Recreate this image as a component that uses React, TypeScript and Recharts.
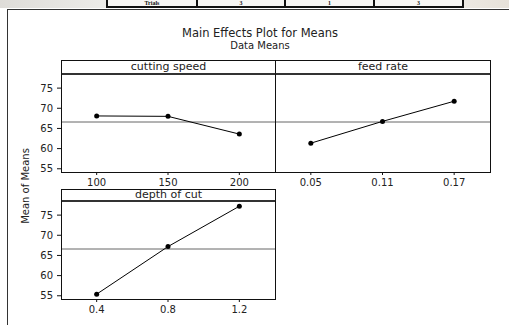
import React from 'react';
import { LineChart, Line, XAxis, YAxis, ReferenceLine } from 'recharts';

// factor levels and the mean response at each level
const speedLevels = [100, 150, 200];
const speedMeans = [68.1, 68.0, 63.6];
const feedLevels = [0.05, 0.11, 0.17];
const feedMeans = [61.35, 66.75, 71.75];
const depthLevels = [0.4, 0.8, 1.2];
const depthMeans = [55.4, 67.2, 77.2];
const meanTicks = [55, 60, 65, 70, 75];

const allMeans = [...speedMeans, ...feedMeans, ...depthMeans];
const grandMean = allMeans.reduce((a, b) => a + b, 0) / allMeans.length;

// bits of the table row cut off above the figure
const tableCells = ['Trials', '3', '1', '3'];

const FONT = '"DejaVu Sans", Verdana, sans-serif';
const Y_DOMAIN: [number, number] = [54.2, 78.5];
const PLOT_H = 98;
const X_H = 22;
const Y_W = 30;

interface PanelProps {
  title: string;
  levels: number[];
  means: number[];
  xDomain: [number, number];
  left: number;
  top: number;
  plotW: number;
  headerH: number;
  showY: boolean;
}

function Panel({ title, levels, means, xDomain, left, top, plotW, headerH, showY }: PanelProps) {
  const data = levels.map((x, i) => ({ x, y: means[i] }));
  const yW = showY ? Y_W : 0;
  const tick = { fontSize: 10, fill: '#222', fontFamily: FONT };
  return (
    <div style={{ position: 'absolute', left: left - yW, top: top - headerH }}>
      <div
        style={{
          position: 'absolute',
          left: yW,
          top: 0,
          width: plotW + 1,
          height: headerH + 1,
          boxSizing: 'border-box',
          border: '1px solid #111',
          borderBottom: '2px solid #333',
          fontSize: 11,
          fontFamily: FONT,
          color: '#222',
          textAlign: 'center',
          lineHeight: `${headerH - 2}px`,
        }}
      >
        {title}
      </div>
      <div style={{ position: 'absolute', left: 0, top: headerH }}>
        <LineChart
          width={yW + plotW + 1}
          height={PLOT_H + X_H}
          data={data}
          margin={{ top: 0, right: 1, bottom: 0, left: 0 }}
        >
          <XAxis
            dataKey='x'
            type='number'
            domain={xDomain}
            ticks={levels}
            height={X_H}
            axisLine={false}
            tickSize={3}
            tickMargin={4}
            tickLine={{ stroke: '#111' }}
            tick={tick}
            allowDataOverflow
          />
          <YAxis
            type='number'
            domain={Y_DOMAIN}
            ticks={meanTicks}
            width={Y_W}
            hide={!showY}
            axisLine={false}
            tickSize={4}
            tickMargin={4}
            tickLine={{ stroke: '#111' }}
            tick={tick}
            allowDataOverflow
          />
          <ReferenceLine y={grandMean} stroke='#666' strokeWidth={1} />
          <Line
            dataKey='y'
            stroke='#000'
            strokeWidth={1}
            dot={{ r: 2.5, fill: '#000', stroke: '#000', strokeWidth: 0 }}
            isAnimationActive={false}
          />
        </LineChart>
      </div>
      <div
        style={{
          position: 'absolute',
          left: yW,
          top: headerH,
          width: plotW + 1,
          height: PLOT_H + 1,
          boxSizing: 'border-box',
          border: '1px solid #111',
          borderTop: 'none',
          pointerEvents: 'none',
        }}
      />
    </div>
  );
}

export default function App() {
  const cellEdges = [106, 196, 284, 373, 462];
  return (
    <div
      style={{
        position: 'absolute',
        left: 0,
        top: 0,
        width: 509,
        height: 325,
        overflow: 'hidden',
        background: '#fff',
        fontFamily: FONT,
      }}
    >
      {/* table strip at the very top */}
      <div
        style={{
          position: 'absolute',
          left: 0,
          top: 0,
          width: 509,
          height: 8,
          overflow: 'hidden',
          background: 'linear-gradient(90deg, #dedcd8, #ecebe8 20%, #f3f1ee 80%, #e6e1d9)',
        }}
      >
        {tableCells.map((t, i) => (
          <div
            key={i}
            style={{
              position: 'absolute',
              left: cellEdges[i],
              top: -20,
              width: cellEdges[i + 1] - cellEdges[i] + 2,
              height: 28,
              boxSizing: 'border-box',
              border: '2px solid #111',
              background: '#f7f6f4',
              overflow: 'hidden',
            }}
          >
            <span
              style={{
                position: 'absolute',
                left: 0,
                right: 0,
                top: 18,
                textAlign: 'center',
                fontFamily: '"Liberation Serif", serif',
                fontWeight: 'bold',
                fontSize: 6,
                lineHeight: '6px',
                color: '#111',
              }}
            >
              {t}
            </span>
          </div>
        ))}
      </div>

      {/* figure frame */}
      <div
        style={{
          position: 'absolute',
          left: 7,
          top: 9,
          width: 520,
          height: 330,
          borderTop: '1px solid #333',
          borderLeft: '1px solid #333',
        }}
      />

      <div
        style={{
          position: 'absolute',
          left: 0,
          width: 520,
          top: 26,
          textAlign: 'center',
          fontSize: 11.5,
          lineHeight: '14px',
          color: '#222',
        }}
      >
        Main Effects Plot for Means
      </div>
      <div
        style={{
          position: 'absolute',
          left: 0,
          width: 520,
          top: 40,
          textAlign: 'center',
          fontSize: 10,
          lineHeight: '12px',
          color: '#222',
        }}
      >
        Data Means
      </div>

      <div
        style={{
          position: 'absolute',
          left: 26 - 50,
          top: 186 - 6,
          width: 100,
          textAlign: 'center',
          fontSize: 10,
          lineHeight: '12px',
          color: '#222',
          transform: 'rotate(-90deg)',
        }}
      >
        Mean of Means
      </div>

      <Panel
        title='cutting speed'
        levels={speedLevels}
        means={speedMeans}
        xDomain={[75, 225]}
        left={61}
        top={74}
        plotW={214}
        headerH={14}
        showY
      />
      <Panel
        title='feed rate'
        levels={feedLevels}
        means={feedMeans}
        xDomain={[0.02, 0.2]}
        left={275}
        top={74}
        plotW={215}
        headerH={14}
        showY={false}
      />
      <Panel
        title='depth of cut'
        levels={depthLevels}
        means={depthMeans}
        xDomain={[0.2, 1.4]}
        left={61}
        top={201}
        plotW={214}
        headerH={12}
        showY
      />
    </div>
  );
}
